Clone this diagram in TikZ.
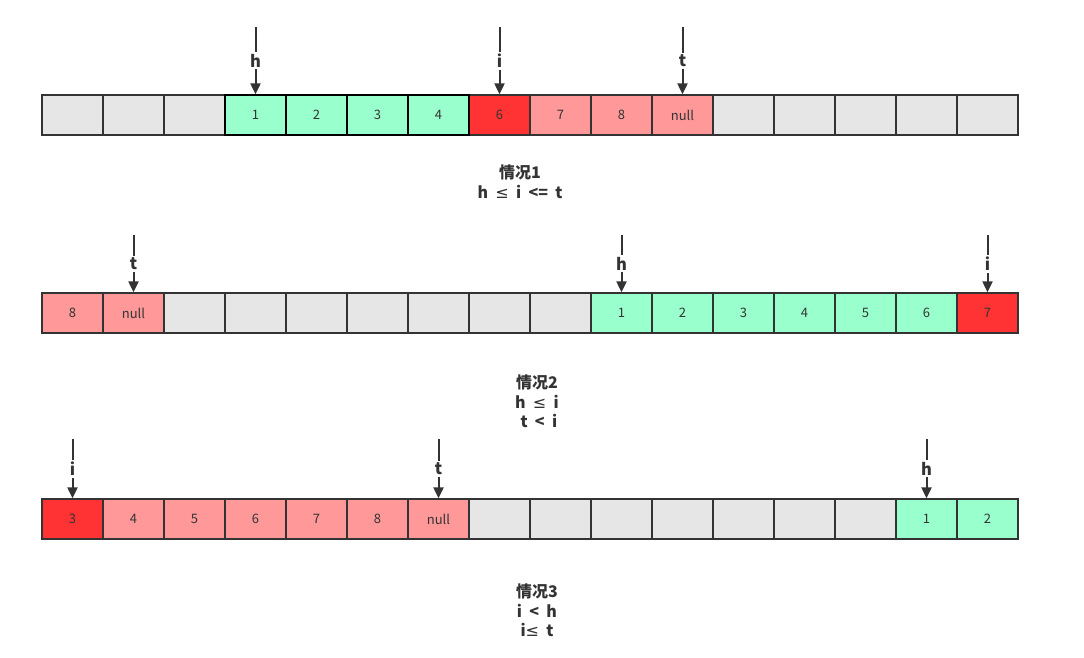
\documentclass[tikz,border=0pt]{standalone}
\usepackage{fontspec}
\setmainfont{Noto Sans CJK SC}
\newfontfamily\symfont{DejaVu Sans}
\newcommand{\lessq}{{\symfont\mdseries ≤}}
\usetikzlibrary{arrows.meta}
\definecolor{cellgray}{HTML}{E6E6E6}
\definecolor{cellgreen}{HTML}{99FFCC}
\definecolor{cellred}{HTML}{FF3333}
\definecolor{cellpink}{HTML}{FF9999}
\definecolor{inkgray}{HTML}{333333}
\tikzset{
  cell/.style={draw=inkgray, line width=1.3pt, minimum width=61pt, minimum height=40pt, inner sep=0pt, text=inkgray, font=\fontsize{13}{15}\selectfont},
  ptr/.style={draw=inkgray, line width=2pt, -{Triangle[length=11pt,width=10pt]}},
  lbl/.style={fill=white, inner sep=2pt, text=inkgray, font=\fontsize{16.5}{18}\selectfont\bfseries},
  caption/.style={align=center, text=inkgray, font=\fontsize{16}{19.5}\selectfont\bfseries}
}
\begin{document}
\begin{tikzpicture}[x=1pt, y=-1pt]
	\useasboundingbox[fill=white] (0,0) rectangle (1084,657);
	% Row 1:
	\foreach \c/\fc/\txt in {1/cellgray/{},2/cellgray/{},3/cellgray/{},4/cellgreen/1,5/cellgreen/2,6/cellgreen/3,7/cellgreen/4,8/cellred/6,9/cellpink/7,10/cellpink/8,11/cellpink/null,12/cellgray/{},13/cellgray/{},14/cellgray/{},15/cellgray/{},16/cellgray/{}}
		\node[cell, fill=\fc] (a\c) at ({42+(\c-0.5)*61}, 115) {\txt};
	\foreach \c/\txt in {4/1,5/2,6/3,7/4} \node[cell, draw=black, fill=cellgreen] at (a\c) {\txt};
	\path (a4.north) ++(0,-67) coordinate (ah);
	\path (a8.north) ++(0,-67) coordinate (ai);
	\path (a11.north) ++(0,-67) coordinate (at);
	\draw[ptr] (ah) -- node[lbl] {h} (a4.north);
	\draw[ptr] (ai) -- node[lbl] {i} (a8.north);
	\draw[ptr] (at) -- node[lbl] {t} (a11.north);
	\node[caption] (cap1) at (520, 182) {情况1\\h \ \lessq{} \ i \ <= \ t};
	% Row 2:
	\foreach \c/\fc/\txt in {1/cellpink/8,2/cellpink/null,3/cellgray/{},4/cellgray/{},5/cellgray/{},6/cellgray/{},7/cellgray/{},8/cellgray/{},9/cellgray/{},10/cellgreen/1,11/cellgreen/2,12/cellgreen/3,13/cellgreen/4,14/cellgreen/5,15/cellgreen/6,16/cellred/7}
		\node[cell, fill=\fc] (b\c) at ({42+(\c-0.5)*61}, 313) {\txt};
	\path (b2.north) ++(0,-57) coordinate (bt);
	\path (b10.north) ++(0,-57) coordinate (bh);
	\path (b16.north) ++(0,-57) coordinate (bi);
	\draw[ptr] (bt) -- node[lbl] {t} (b2.north);
	\draw[ptr] (bh) -- node[lbl] {h} (b10.north);
	\draw[ptr] (bi) -- node[lbl] {i} (b16.north);
	\node[caption] (cap2) at (537, 401.5) {情况2\\h \ \lessq{} \ i\\\ t \ < \ i};
	% Row 3:
	\foreach \c/\fc/\txt in {1/cellred/3,2/cellpink/4,3/cellpink/5,4/cellpink/6,5/cellpink/7,6/cellpink/8,7/cellpink/null,8/cellgray/{},9/cellgray/{},10/cellgray/{},11/cellgray/{},12/cellgray/{},13/cellgray/{},14/cellgray/{},15/cellgreen/1,16/cellgreen/2}
		\node[cell, fill=\fc] (c\c) at ({42+(\c-0.5)*61}, 519) {\txt};
	\path (c1.north) ++(0,-59) coordinate (ci);
	\path (c7.north) ++(0,-59) coordinate (ct);
	\path (c15.north) ++(0,-59) coordinate (ch);
	\draw[ptr] (ci) -- node[lbl] {i} (c1.north);
	\draw[ptr] (ct) -- node[lbl] {t} (c7.north);
	\draw[ptr] (ch) -- node[lbl] {h} (c15.north);
	\node[caption] (cap3) at (537, 610.5) {情况3\\i \ < \ h\\i\lessq{} \ t};
\end{tikzpicture}
\end{document}
